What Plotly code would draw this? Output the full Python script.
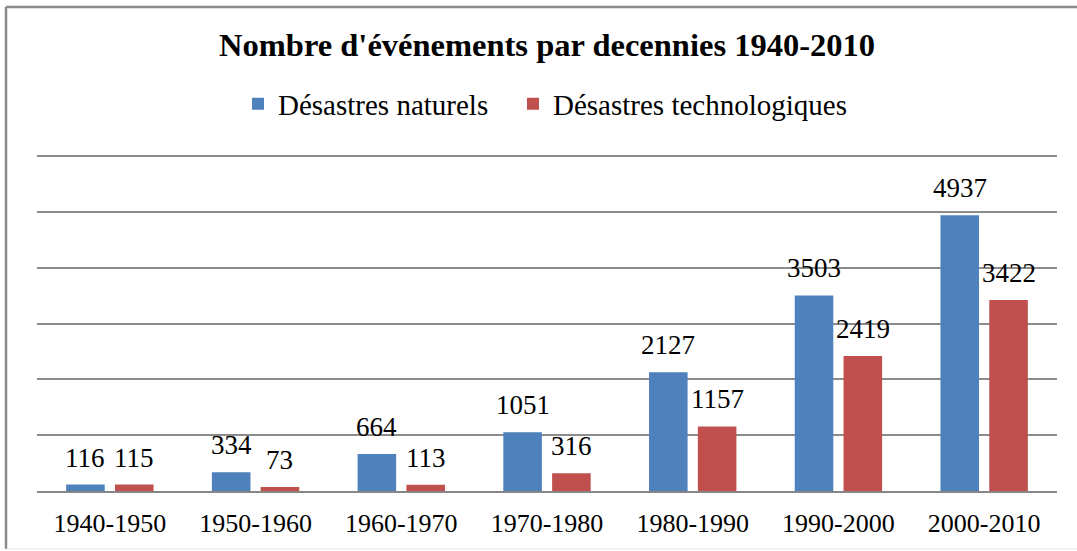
import plotly.graph_objects as go

categories = ["1940-1950", "1950-1960", "1960-1970", "1970-1980", "1980-1990", "1990-2000", "2000-2010"]
naturels = [116, 334, 664, 1051, 2127, 3503, 4937]
technologiques = [115, 73, 113, 316, 1157, 2419, 3422]
series_names = ["Désastres naturels", "Désastres technologiques"]
colors = ["#4F81BD", "#C0504D"]
title_text = "Nombre d'événements par decennies 1940-2010"

W, H = 1077, 551
ML, MR, MT, MB = 37, 20, 154, 60
BARGAP, BARGROUPGAP = 0.33, 0.21
FONT = "Liberation Serif, Times New Roman, serif"
YMAX = 6000 + 2 * 6000 / 335  # keep top gridline 2px inside plot

fig = go.Figure()
for name, vals, col, lg in zip(series_names, [naturels, technologiques], colors, ["legend", "legend2"]):
    fig.add_trace(go.Bar(x=categories, y=vals, name=name, legend=lg,
                         marker=dict(color=col, line=dict(width=0))))

# data labels above bars
plot_w = W - ML - MR
cat_px = plot_w / len(categories)
slot = cat_px * (1 - BARGAP) / 2
annotations = []
for i, vals in enumerate([naturels, technologiques]):
    shift = (-slot / 2) if i == 0 else (slot / 2)
    for c, v in zip(categories, vals):
        annotations.append(dict(x=c, y=v, xref="x", yref="y", text=str(v), showarrow=False,
                                xshift=shift, yanchor="bottom", yshift=10,
                                font=dict(family=FONT, size=27, color="black")))

def px_x(p):
    return (p - ML) / plot_w

def px_y(p):
    return (H - MB - p) / (H - MT - MB)

shapes = [
    dict(type="line", xref="paper", yref="paper", x0=px_x(6), x1=px_x(6), y0=px_y(7), y1=px_y(549),
         line=dict(color="#8a8a8a", width=2.5)),
    dict(type="line", xref="paper", yref="paper", x0=px_x(6), x1=px_x(1090), y0=px_y(7), y1=px_y(7),
         line=dict(color="#8a8a8a", width=2.5)),
    dict(type="line", xref="paper", yref="paper", x0=px_x(6), x1=px_x(1090), y0=px_y(549), y1=px_y(549),
         line=dict(color="#e6e6e6", width=1)),
]

legend_common = dict(orientation="h", xanchor="left", y=px_y(104), yanchor="middle",
                     font=dict(family=FONT, size=29, color="black"), bgcolor="rgba(0,0,0,0)")

fig.update_layout(
    width=W, height=H,
    margin=dict(l=ML, r=MR, t=MT, b=MB, autoexpand=False),
    paper_bgcolor="white", plot_bgcolor="white",
    barmode="group", bargap=BARGAP, bargroupgap=BARGROUPGAP,
    title=dict(text="<b>" + title_text + "</b>", xref="paper", x=0.5, xanchor="center",
               y=1 - 45 / H, yanchor="middle",
               font=dict(family=FONT, size=32.5, color="black")),
    legend=dict(x=px_x(238), **legend_common),
    legend2=dict(x=px_x(513), **legend_common),
    xaxis=dict(showline=True, linecolor="#868686", linewidth=2, showgrid=False, ticks="",
               ticklabelstandoff=8, tickfont=dict(family=FONT, size=26, color="black")),
    yaxis=dict(range=[0, YMAX], tickvals=[1000, 2000, 3000, 4000, 5000, 6000], showticklabels=False,
               showgrid=True, gridcolor="#8c8c8c", gridwidth=1.5, zeroline=False, ticks=""),
    annotations=annotations,
    shapes=shapes,
    showlegend=True,
)

fig.write_html("out.html", config={"displayModeBar": False},
               post_script="document.body.style.margin='0';document.body.style.overflow='hidden';")
